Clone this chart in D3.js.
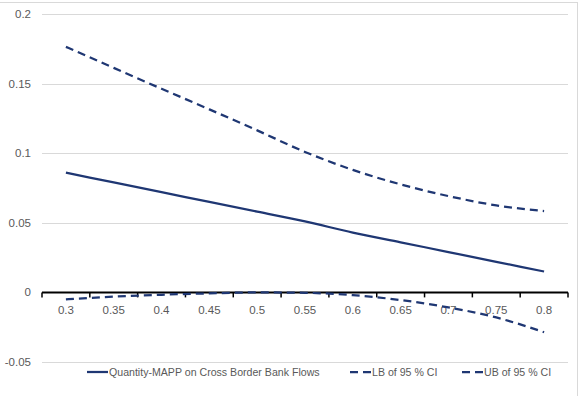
<!DOCTYPE html>
<html>
<head>
<meta charset="utf-8">
<script src="https://cdn.jsdelivr.net/npm/d3@7"></script>
<style>
  html, body { margin: 0; padding: 0; background: #fff; }
  svg { display: block; }
</style>
</head>
<body>
<svg id="chart" width="584" height="396"></svg>
<script>
// Thresholds on the category axis
const categories = ["0.3", "0.35", "0.4", "0.45", "0.5", "0.55", "0.6", "0.65", "0.7", "0.75", "0.8"];
// Point estimate and 95% confidence bounds
const estimate = [0.086, 0.079, 0.072, 0.065, 0.058, 0.051, 0.043, 0.036, 0.029, 0.022, 0.015];
const lowerBound = [-0.005, -0.003, -0.0017, -0.0007, 0.0, -0.0003, -0.002, -0.0055, -0.0108, -0.018, -0.0286];
const upperBound = [0.1764, 0.1613, 0.1463, 0.1315, 0.1164, 0.1009, 0.088, 0.0776, 0.0692, 0.0625, 0.0584];
const yTicks = [-0.05, 0, 0.05, 0.1, 0.15, 0.2];
const seriesNames = ["Quantity-MAPP on Cross Border Bank Flows", "LB of 95 % CI", "UB of 95 % CI"];

const navy = "#1f3773";
const grid = "#d9d9d9";
const textColor = "#595959";
const font = "'Liberation Sans', Arial, sans-serif";

const svg = d3.select("#chart");
const plotLeft = 42, plotRight = 568, plotTop = 14, plotBottom = 362;

// chart frame
svg.append("rect")
  .attr("x", -1).attr("y", 2.5).attr("width", 578.5).attr("height", 400)
  .attr("fill", "none").attr("stroke", grid).attr("stroke-width", 1);

const x = d3.scaleBand().domain(categories).range([plotLeft, plotRight]).padding(0);
const y = d3.scaleLinear().domain([-0.05, 0.2]).range([plotBottom, plotTop]);

// horizontal gridlines
svg.append("g").selectAll("line")
  .data(yTicks.filter(t => t !== 0))
  .join("line")
  .attr("x1", plotLeft).attr("x2", plotRight)
  .attr("y1", d => Math.round(y(d)) + 0.5).attr("y2", d => Math.round(y(d)) + 0.5)
  .attr("stroke", grid).attr("stroke-width", 1);

// y-axis labels
svg.append("g").selectAll("text")
  .data(yTicks)
  .join("text")
  .attr("x", 31).attr("y", d => y(d) + 4)
  .attr("text-anchor", "end")
  .attr("font-family", font).attr("font-size", 11.5)
  .attr("fill", textColor)
  .text(d => d === 0 ? "0" : String(d));

// category axis along zero
const y0 = y(0);
const boundaries = categories.map(c => x(c)).concat([plotRight]);
svg.append("line")
  .attr("x1", plotLeft).attr("x2", plotRight)
  .attr("y1", y0).attr("y2", y0)
  .attr("stroke", "#000").attr("stroke-width", 2);
svg.append("g").selectAll("line")
  .data(boundaries)
  .join("line")
  .attr("x1", d => d).attr("x2", d => d)
  .attr("y1", y0).attr("y2", y0 + 5)
  .attr("stroke", "#000").attr("stroke-width", 1.5);
svg.append("g").selectAll("text")
  .data(categories)
  .join("text")
  .attr("x", d => x(d) + x.bandwidth() / 2)
  .attr("y", y0 + 22)
  .attr("text-anchor", "middle")
  .attr("font-family", font).attr("font-size", 11.5)
  .attr("fill", textColor)
  .text(d => d);

// series lines (smoothed)
const line = d3.line()
  .x((d, i) => x(categories[i]) + x.bandwidth() / 2)
  .y(d => y(d))
  .curve(d3.curveMonotoneX);

const series = [
  { values: estimate, dash: null },
  { values: lowerBound, dash: "8,5" },
  { values: upperBound, dash: "8,5" }
];
series.forEach(s => {
  svg.append("path")
    .datum(s.values)
    .attr("d", line)
    .attr("fill", "none")
    .attr("stroke", navy)
    .attr("stroke-width", 2.25)
    .attr("stroke-dasharray", s.dash);
});

// legend
const legendY = 372;
const legendItems = [
  { name: seriesNames[0], x0: 87, dash: null },
  { name: seriesNames[1], x0: 350, dash: "8,5" },
  { name: seriesNames[2], x0: 462, dash: "8,5" }
];
const lg = svg.append("g");
legendItems.forEach(it => {
  lg.append("line")
    .attr("x1", it.x0).attr("x2", it.x0 + 21)
    .attr("y1", legendY).attr("y2", legendY)
    .attr("stroke", navy).attr("stroke-width", 2.25)
    .attr("stroke-dasharray", it.dash);
  lg.append("text")
    .attr("x", it.x0 + 22).attr("y", legendY + 4)
    .attr("font-family", font).attr("font-size", 10.6)
    .attr("fill", textColor)
    .text(it.name);
});
</script>
</body>
</html>
